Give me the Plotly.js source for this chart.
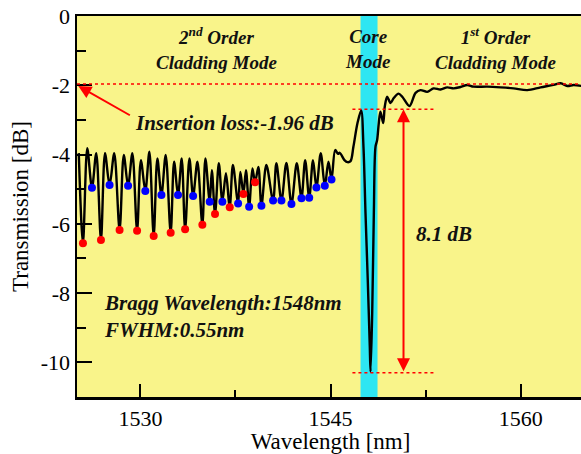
<!DOCTYPE html>
<html>
<head>
<meta charset="utf-8">
<script src="https://cdn.plot.ly/plotly-3.0.1.min.js"></script>
<style>
html,body{margin:0;padding:0;overflow:hidden;background:#fff;}
#chart{width:586px;height:454px;}
</style>
</head>
<body>
<div id="chart"></div>
<script>
// Transmission spectrum (wavelength nm, transmission dB)
const wavelength = [
1525.14,1525.47,1525.81,1526.18,1526.52,1526.89,1527.21,1527.57,1527.94,1528.36,
1528.69,1529.03,1529.37,1529.74,1530.04,1530.39,1530.71,1531.05,1531.34,1531.66,
1532.00,1532.39,1532.66,1532.97,1533.26,1533.53,1533.87,1534.16,1534.50,1534.89,
1535.13,1535.47,1535.64,1535.89,1536.19,1536.47,1536.75,1537.05,1537.30,1537.71,
1537.89,1538.13,1538.33,1538.58,1538.84,1539.05,1539.31,1539.55,1539.94,1540.47,
1540.73,1541.13,1541.52,1541.92,1542.34,1542.71,1543.00,1543.32,1543.62,1543.89,
1544.23,1544.55,1544.84,1545.08,1545.37,1545.59,1545.73,1546.10,1546.34,1546.58,
1546.81,1547.13,1547.42,1547.60,1547.76,1547.94,1548.10,1548.16,1548.29,1548.42,
1548.55,1548.68,1548.81,1548.94,1549.16,1549.28,1549.47,1549.73,1549.99,1550.37,
1550.68,1551.23,1551.71,1552.10,1552.63,1553.13,1553.68,1554.21,1554.71,1555.26,
1555.79,1556.29,1557.37,1558.42,1559.44,1560.53,1561.58,1562.60,1563.16,1563.68,
1564.18,1564.81];
const transmission = [
-3.96,-6.56,-3.82,-4.96,-3.96,-6.47,-3.96,-4.88,-3.96,-6.18,
-4.01,-4.90,-3.96,-6.20,-4.16,-5.05,-3.92,-6.35,-4.11,-5.17,
-4.01,-6.26,-4.21,-5.17,-4.11,-6.16,-4.11,-5.20,-4.21,-6.03,
-4.11,-5.36,-4.45,-5.72,-4.25,-5.36,-4.54,-5.52,-4.30,-5.41,
-4.50,-5.14,-4.45,-5.51,-4.40,-4.80,-4.36,-5.48,-4.30,-5.33,
-4.25,-5.33,-4.24,-5.43,-4.25,-5.26,-4.16,-5.25,-4.16,-4.95,
-3.96,-4.90,-4.21,-4.72,-3.87,-3.98,-3.95,-4.16,-4.22,-4.19,
-3.77,-3.09,-2.73,-3.77,-5.67,-7.62,-9.55,-10.27,-8.58,-5.69,
-3.77,-3.58,-3.09,-2.76,-3.09,-2.62,-2.33,-2.51,-2.37,-2.24,
-2.34,-2.60,-2.22,-2.14,-2.19,-2.09,-2.12,-2.06,-2.09,-2.05,
-1.99,-2.04,-2.04,-2.06,-2.09,-2.14,-2.06,-1.99,-1.94,-2.02,
-1.99,-2.02];

// deep dips (red) and shallow dips (blue)
const redX = [1525.47,1526.89,1528.36,1529.74,1531.05,1532.39,1533.53,1534.89,1535.89,1537.05,1538.13,1539.05];
const redY = [-6.56,-6.47,-6.18,-6.20,-6.35,-6.26,-6.16,-6.03,-5.72,-5.52,-5.14,-4.80];
const blueX = [1526.18,1527.57,1529.03,1530.39,1531.66,1532.97,1534.16,1535.47,1536.47,1537.71,
               1538.58,1539.55,1540.47,1541.13,1541.92,1542.71,1543.32,1543.89,1544.55,1545.08];
const blueY = [-4.96,-4.88,-4.90,-5.05,-5.17,-5.17,-5.20,-5.36,-5.36,-5.41,
               -5.51,-5.48,-5.33,-5.33,-5.43,-5.26,-5.25,-4.95,-4.90,-4.72];

// reference levels
const insertionLoss = -1.96;
const peakLevel = -2.69;
const dipLevel = -10.30;
const coreBand = [1547.37, 1548.71];
const levelSpan = [1546.73, 1553.28];
const arrowX = 1550.76;

const xTickVals = [1530, 1545, 1560];
const xTickText = ["1530", "1545", "1560"];
const yTickVals = [0, -2, -4, -6, -8, -10];
const yTickText = ["0", "-2", "-4", "-6", "-8", "-10"];

const serif = "Times New Roman";
const modeFont = {family: serif, size: 19, color: "#111", weight: "bold", style: "italic"};
const annFont = {family: serif, size: 21, color: "#111", weight: "bold", style: "italic"};

const traces = [
  {x: wavelength, y: transmission, type: "scatter", mode: "lines",
   line: {color: "#000", width: 2.4, shape: "spline", smoothing: 0.9}, hoverinfo: "skip"},
  {x: redX, y: redY, type: "scatter", mode: "markers",
   marker: {color: "#ff0000", size: 8}},
  {x: blueX, y: blueY, type: "scatter", mode: "markers",
   marker: {color: "#0000ff", size: 8}}
];

const layout = {
  width: 586, height: 454,
  margin: {l: 77, r: 2, t: 16, b: 57},
  paper_bgcolor: "#ffffff",
  plot_bgcolor: "#F9F48A",
  showlegend: false,
  font: {family: serif, color: "#000"},
  xaxis: {
    range: [1525, 1565], showgrid: false, zeroline: false,
    showline: true, linecolor: "#000", linewidth: 2.5, mirror: true,
    ticks: "inside", ticklen: 13, tickwidth: 2, tickcolor: "#000",
    tickvals: xTickVals, ticktext: xTickText,
    minor: {ticks: "inside", dtick: 7.5, tick0: 1530, ticklen: 7, tickwidth: 2, tickcolor: "#000"},
    tickfont: {family: serif, size: 22, color: "#000"},
    title: {text: "Wavelength [nm]", font: {family: serif, size: 23, color: "#000"}, standoff: 4}
  },
  yaxis: {
    range: [-11, 0], showgrid: false, zeroline: false,
    showline: true, linecolor: "#000", linewidth: 2.5, mirror: true,
    ticks: "inside", ticklen: 15, tickwidth: 2, tickcolor: "#000",
    tickvals: yTickVals, ticktext: yTickText,
    minor: {ticks: "inside", dtick: 1, tick0: 0, ticklen: 9, tickwidth: 2, tickcolor: "#000"},
    tickfont: {family: serif, size: 22, color: "#000"},
    title: {text: "Transmission [dB]", font: {family: serif, size: 23, color: "#000"}, standoff: 6}
  },
  shapes: [
    {type: "rect", xref: "x", yref: "paper", x0: coreBand[0], x1: coreBand[1], y0: 0, y1: 1,
     fillcolor: "#2EE6F2", line: {width: 0}, layer: "below"},
    {type: "line", xref: "paper", yref: "y", x0: 0, x1: 1, y0: insertionLoss, y1: insertionLoss,
     line: {color: "#ff0000", width: 1.5, dash: "dot"}},
    {type: "line", xref: "x", yref: "y", x0: levelSpan[0], x1: levelSpan[1], y0: peakLevel, y1: peakLevel,
     line: {color: "#ff0000", width: 1.5, dash: "dot"}},
    {type: "line", xref: "x", yref: "y", x0: levelSpan[0], x1: levelSpan[1], y0: dipLevel, y1: dipLevel,
     line: {color: "#ff0000", width: 1.5, dash: "dot"}}
  ],
  annotations: [
    {x: 1536.0, y: -0.95, xref: "x", yref: "y", showarrow: false,
     text: "2<sup>nd</sup> Order<br>Cladding Mode", font: modeFont},
    {x: 1547.92, y: -0.95, xref: "x", yref: "y", showarrow: false,
     text: "Core<br>Mode", font: modeFont},
    {x: 1558.02, y: -0.95, xref: "x", yref: "y", showarrow: false,
     text: "1<sup>st</sup> Order<br>Cladding Mode", font: modeFont},
    {x: 1525.1, y: -2.02, xref: "x", yref: "y", ax: 1529.29, ay: -2.89, axref: "x", ayref: "y",
     showarrow: true, arrowhead: 2, arrowsize: 1.3, arrowwidth: 2, arrowcolor: "#ff0000", text: ""},
    {x: 1529.4, y: -3.08, xref: "x", yref: "y", xanchor: "left", showarrow: false,
     text: "Insertion loss:-1.96 dB", font: annFont},
    {x: arrowX, y: peakLevel, xref: "x", yref: "y", ax: arrowX, ay: dipLevel, axref: "x", ayref: "y",
     showarrow: true, arrowhead: 2, startarrowhead: 2, arrowside: "end+start", arrowsize: 1.3,
     startarrowsize: 1.3, arrowwidth: 2, arrowcolor: "#ff0000", text: ""},
    {x: 1551.6, y: -6.3, xref: "x", yref: "y", xanchor: "left", showarrow: false,
     text: "8.1 dB", font: annFont},
    {x: 1527.0, y: -8.28, xref: "x", yref: "y", xanchor: "left", showarrow: false,
     text: "Bragg Wavelength:1548nm", font: annFont},
    {x: 1527.0, y: -9.07, xref: "x", yref: "y", xanchor: "left", showarrow: false,
     text: "FWHM:0.55nm", font: annFont}
  ]
};

Plotly.newPlot("chart", traces, layout, {displayModeBar: false, staticPlot: true});
</script>
</body>
</html>
